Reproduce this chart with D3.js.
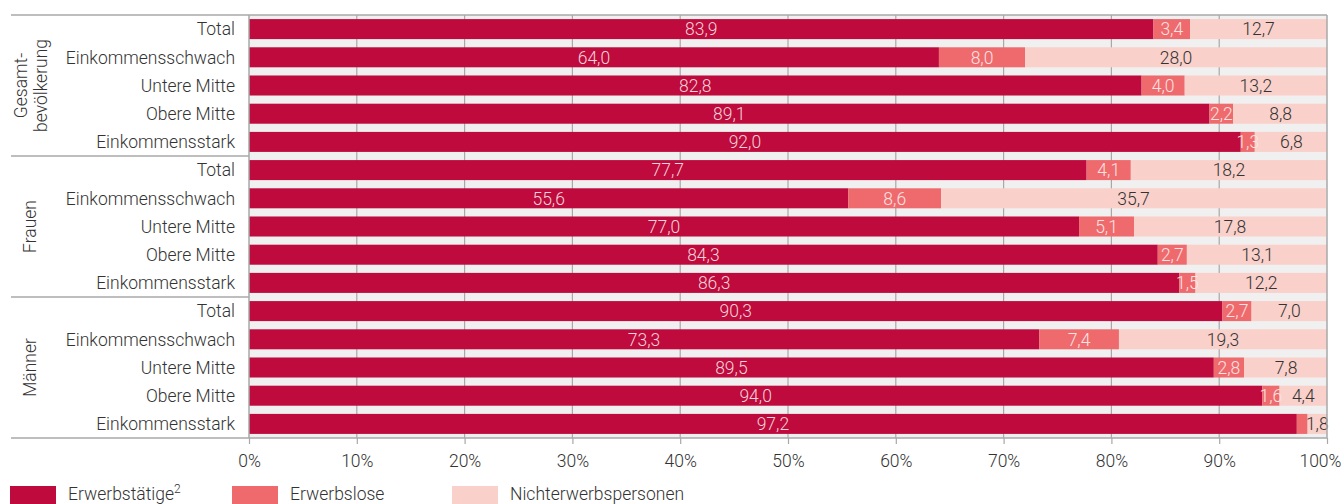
<!DOCTYPE html>
<html><head><meta charset="utf-8">
<script src="https://cdn.jsdelivr.net/npm/d3@7"></script>
<style>
body{margin:0;background:#fff;}
text{font-family:Roboto,"Noto Sans",sans-serif;font-weight:300;}
</style></head>
<body><svg id="c" width="1342" height="504"></svg>
<script>
const groups = ["Gesamt-|bevölkerung", "Frauen", "Männer"];
const categories = ["Total","Einkommensschwach","Untere Mitte","Obere Mitte","Einkommensstark"];
const seriesNames = ["Erwerbstätige","Erwerbslose","Nichterwerbspersonen"];
const erwerbstaetige = [83.9,64.0,82.8,89.1,92.0, 77.7,55.6,77.0,84.3,86.3, 90.3,73.3,89.5,94.0,97.2];
const erwerbslose    = [3.4,8.0,4.0,2.2,1.3, 4.1,8.6,5.1,2.7,1.5, 2.7,7.4,2.8,1.6,1.0];
const nichterwerb    = [12.7,28.0,13.2,8.8,6.8, 18.2,35.7,17.8,13.1,12.2, 7.0,19.3,7.8,4.4,1.8];
const xTicks = [0,10,20,30,40,50,60,70,80,90,100];

const colors = ["#BE0A3C","#EE6A6C","#F9D0CA"];
const labelColors = ["#F6D3DA","#FBE3E3","#333333"];
const FS = 17.5;

const svg = d3.select("#c");
const L = 249, R = 1327, T = 15, B = 438;
const rows = [];
groups.forEach((g,gi)=>categories.forEach((c,ci)=>rows.push({key:gi+"_"+ci,g:gi,cat:c,i:gi*5+ci})));
const x = d3.scaleLinear().domain([0,100]).range([L,R]);
const y = d3.scaleBand().domain(rows.map(r=>r.key)).range([T,B]).paddingInner(0.29).paddingOuter(0.145);

svg.append("rect").attr("x",L).attr("y",T).attr("width",R-L).attr("height",B-T).attr("fill","#F0F0F0");
svg.append("g").selectAll("line").data(xTicks.slice(1,-1)).join("line")
  .attr("x1",d=>x(d)).attr("x2",d=>x(d)).attr("y1",T).attr("y2",B)
  .attr("stroke","#A8A8A8").attr("stroke-width",1.2);

const data = rows.map(r=>[erwerbstaetige[r.i],erwerbslose[r.i],nichterwerb[r.i]]);
svg.append("defs").append("clipPath").attr("id","pc").append("rect")
  .attr("x",L).attr("y",T).attr("width",R-L).attr("height",B-T);
const gBars = svg.append("g").attr("clip-path","url(#pc)");
const gLab = svg.append("g");
rows.forEach((r,ri)=>{
  let acc=0;
  data[ri].forEach((v,si)=>{
    const x0=acc; acc+=v;
    gBars.append("rect").attr("x",x(x0)).attr("y",y(r.key))
      .attr("width",Math.max(0,Math.min(x(acc),R)-x(x0))).attr("height",y.bandwidth())
      .attr("fill",colors[si]);
    if(v>=1.2){
      gLab.append("text").attr("x",x(x0+v/2)).attr("y",y(r.key)+y.bandwidth()/2)
        .attr("dy","0.36em").attr("text-anchor","middle").attr("font-size",FS)
        .attr("fill",labelColors[si]).text(v.toFixed(1).replace(".",","));
    }
  });
  svg.append("text").attr("x",235).attr("y",y(r.key)+y.bandwidth()/2).attr("dy","0.36em")
    .attr("text-anchor","end").attr("font-size",FS).attr("fill","#333").text(r.cat);
});

const line=(x1,y1,x2,y2)=>svg.append("line").attr("x1",x1).attr("y1",y1).attr("x2",x2).attr("y2",y2)
  .attr("stroke","#A8A8A8").attr("stroke-width",1.5);
line(11,T,R,T);
line(R,T,R,B);
line(L,T,L,B);
const step = y.step();
[5,10].forEach(k=>{ const yy = y(rows[k].key) - step*0.29/2; line(11,yy,L,yy); });

const ax = svg.append("g").attr("transform",`translate(0,${B})`)
  .call(d3.axisBottom(x).tickValues(xTicks).tickSize(6).tickSizeOuter(0).tickFormat(d=>d+"%"));
ax.select(".domain").remove();
ax.selectAll(".tick line").attr("stroke","#A8A8A8").attr("stroke-width",1.2);
ax.selectAll(".tick text").attr("font-size",FS).attr("fill","#333").attr("dy",0).attr("y",29)
  .style("font-family","Roboto").style("font-weight",300);
ax.selectAll(".tick text").filter(d=>d===100).attr("text-anchor","end").attr("x",14);
line(11,B,R,B);

groups.forEach((g,gi)=>{
  const yc = (y(rows[gi*5].key) + y(rows[gi*5+4].key)+y.bandwidth())/2;
  const parts = g.split("|");
  parts.forEach((p,pi)=>{
    const xx = parts.length===1 ? 30 : 31 + (pi-0.5)*20;
    svg.append("text").attr("transform",`translate(${xx},${yc}) rotate(-90)`)
      .attr("text-anchor","middle").attr("dy","0.36em").attr("font-size",FS).attr("fill","#333").text(p);
  });
});

const lx=[10,232,452];
seriesNames.forEach((s,si)=>{
  svg.append("rect").attr("x",lx[si]).attr("y",486).attr("width",46).attr("height",20).attr("fill",colors[si]);
  const t = svg.append("text").attr("x",lx[si]+58).attr("y",500).attr("font-size",FS).attr("fill","#333").text(s);
  if(si===0) t.append("tspan").attr("dy",-7).attr("font-size",12).text("2");
});
</script></body></html>
